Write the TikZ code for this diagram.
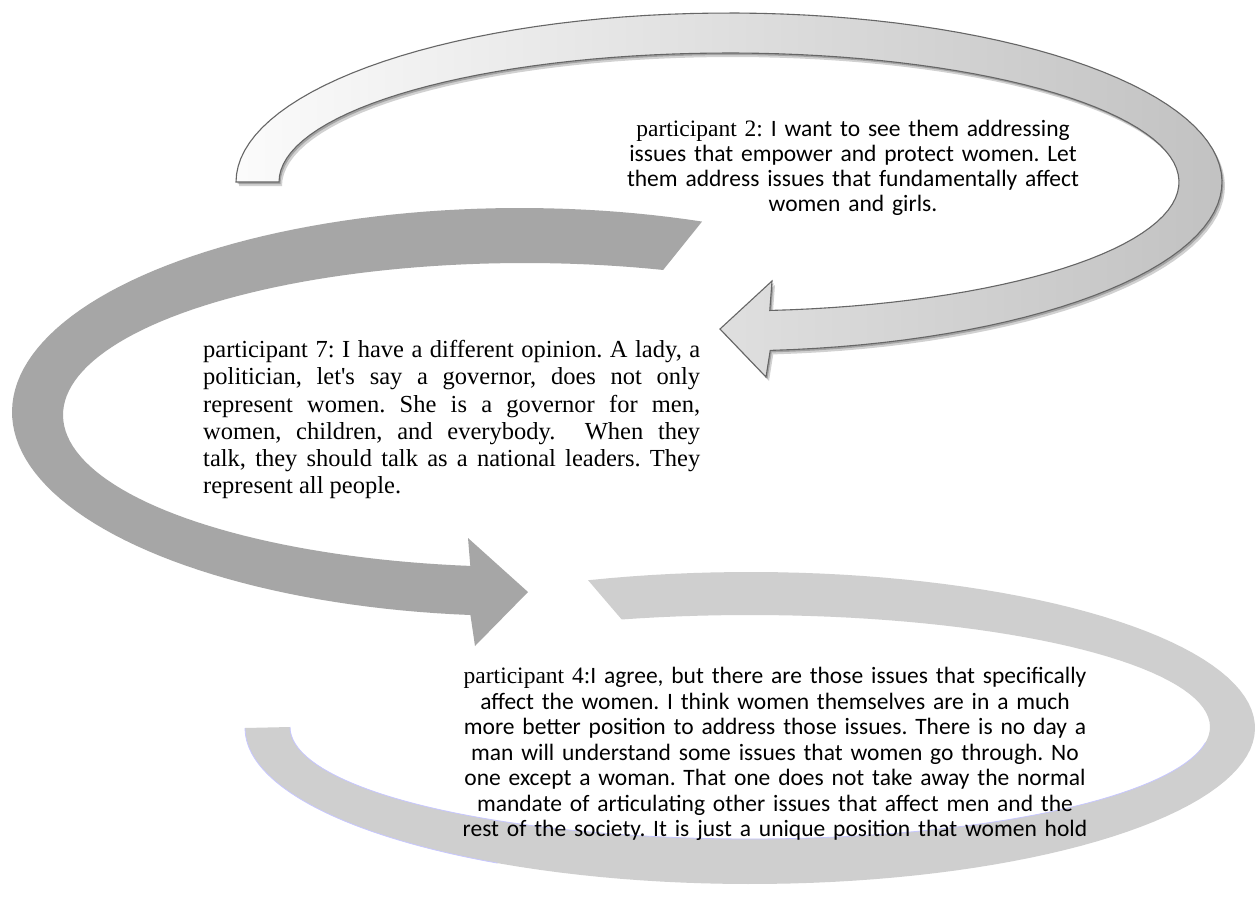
\documentclass[tikz,border=0pt]{standalone}
\usepackage{fontspec}
\setmainfont{Carlito}
\newfontfamily\tnr{Liberation Serif}
\frenchspacing
\begin{document}
\begin{tikzpicture}[x=1pt,y=-1pt,
  quote/.style={inner sep=0pt, font=\fontsize{23.5}{25}\selectfont, text width=640pt, align=center},
  midband/.style={fill=black!35, draw=none},
  lowband/.style={fill=black!19, draw=none},
  rim/.style={blue!22, line width=0.8pt}]
\useasboundingbox (0,0) rectangle (1258,907);
\fill[white] (0,0) rectangle (1258,907);

% upper bent arrow (elliptic band ending in a left-pointing head)
\def\upperarrow{%
  plot[domain=180:445.2,samples=100] ({729+493*cos(\x)},{182+169*sin(\x)})
  -- (766,377) -- (720,329) -- (772,281)
  -- plot[domain=444.8:180,samples=100] ({729+450*cos(\x)},{182+129*sin(\x)}) -- cycle}
\fill[black,opacity=.18,xshift=3pt,yshift=-4pt] \upperarrow;
\fill[black,opacity=.22,xshift=1.5pt,yshift=-2pt] \upperarrow;
\shadedraw[left color=gray!3, right color=gray!48, draw=black!60, line width=1.1pt] \upperarrow;

% middle bent arrow (dark grey, head pointing right)
\fill[midband]
  plot[domain=-69:-264.4,samples=100] ({520+508*cos(\x)},{412+204*sin(\x)})
  -- (475,646) -- (528,592) -- (468,538)
  -- plot[domain=-263.2:-72.6,samples=100] ({525+462*cos(\x)},{415+152*sin(\x)}) -- cycle;

% lower bent band (light grey, flat end on the left)
\fill[lowband]
  plot[domain=-108.7:180,samples=120] ({750+505*cos(\x)},{728+156*sin(\x)})
  -- plot[domain=180:-106.2,samples=120] ({750+460*cos(\x)},{727+112*sin(\x)}) -- cycle;
\draw[rim] plot[domain=180:8,samples=80] ({750+460*cos(\x)},{727+112*sin(\x)});
\draw[rim] plot[domain=180:120,samples=40] ({750+505*cos(\x)},{728+156*sin(\x)});

% quotations
\node[quote, anchor=north] (t2) at (853,120)
  {{\tnr participant 2:} I want to see them addressing\\
   issues that empower and protect women. Let\\
   them address issues that fundamentally affect\\
   women and girls.};

\node[inner sep=0pt, anchor=north west] (t7) at (203,340)
  {\parbox{497pt}{\tnr\fontsize{24.5}{27.3}\selectfont
   participant 7: I have a different opinion. A lady, a\linebreak
   politician, let's say a governor, does not only\linebreak
   represent women. She is a governor for men,\linebreak
   women, children, and everybody.\ \ When they\linebreak
   talk, they should talk as a national leaders. They\linebreak
   represent all people.}};

\node[quote, anchor=north, font=\fontsize{23.5}{25.5}\selectfont] (t4) at (775,667)
  {{\tnr participant 4:}I agree, but there are those issues that specifically\\
   affect the women. I think women themselves are in a much\\
   more better position to address those issues. There is no day a\\
   man will understand some issues that women go through. No\\
   one except a woman. That one does not take away the normal\\
   mandate of articulating other issues that affect men and the\\
   rest of the society. It is just a unique position that women hold};
\end{tikzpicture}
\end{document}
